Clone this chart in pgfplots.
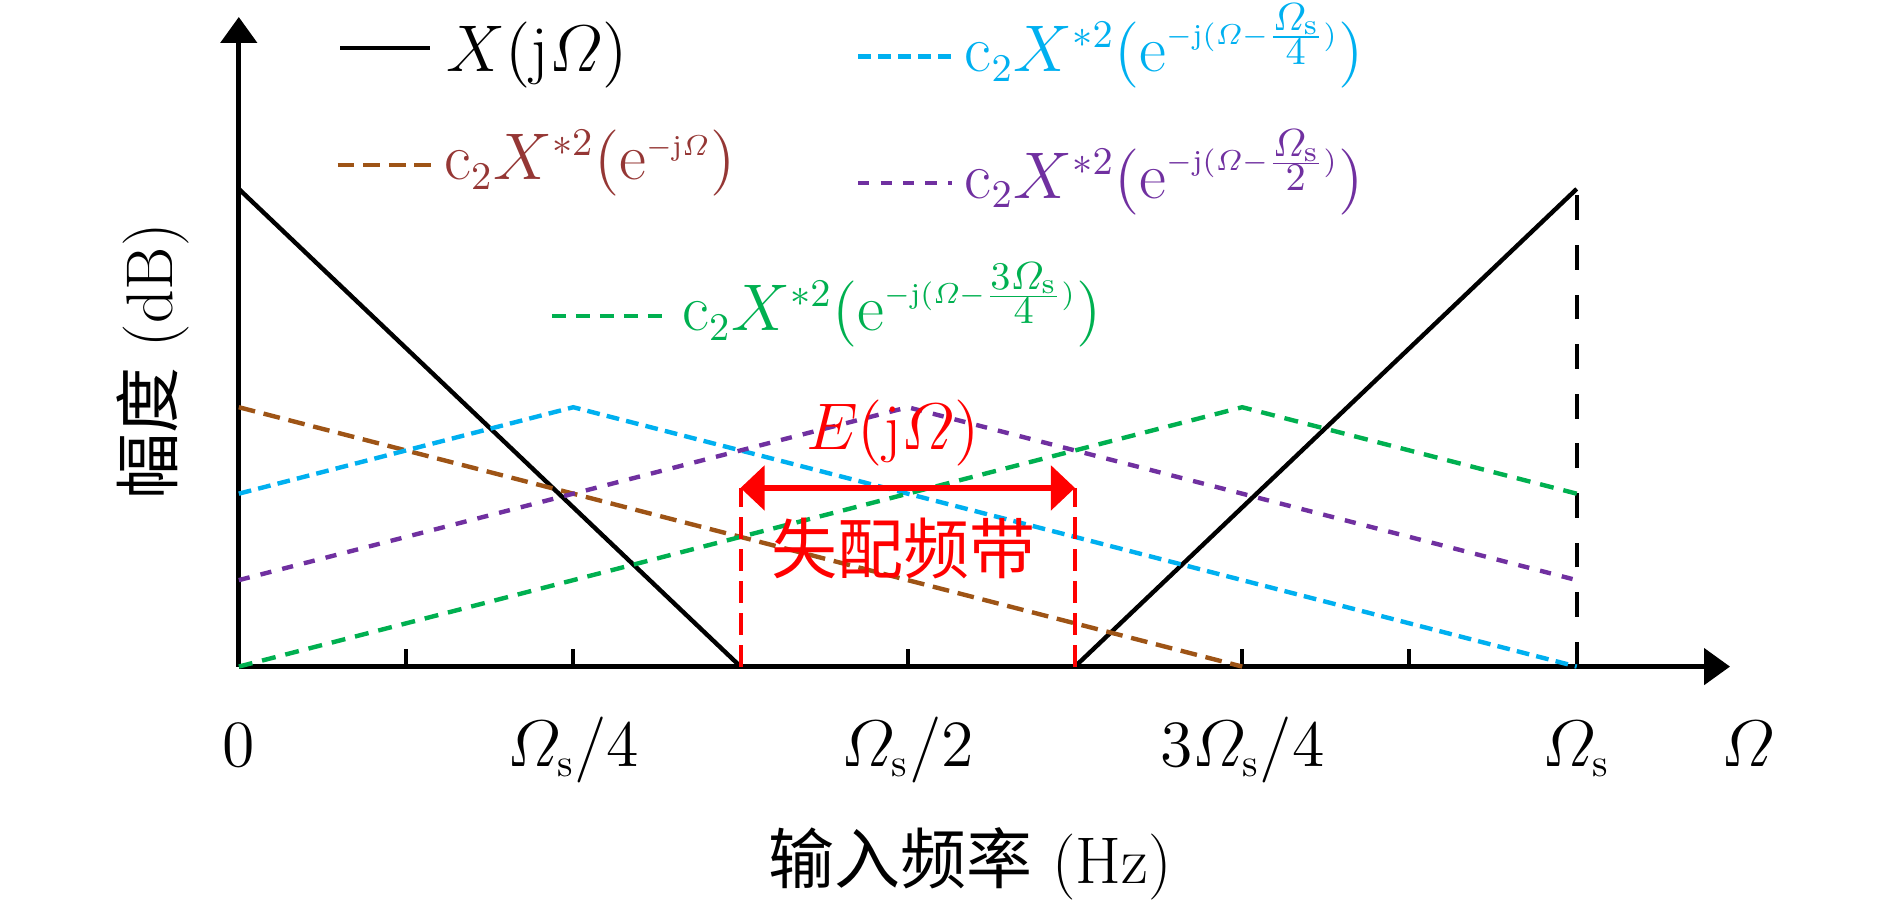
\RequirePackage{fix-cm}
\documentclass[border=0pt]{standalone}
\usepackage{amsmath}
\usepackage{fontspec}
\usepackage{pgfplots}
\pgfplotsset{compat=1.18}
\usetikzlibrary{arrows.meta}
\newfontfamily\cjk{Noto Sans CJK SC}
\DeclareMathSizes{16.5}{16.5}{9.8}{7.2}
\definecolor{brownline}{RGB}{158,84,22}
\definecolor{browntext}{RGB}{149,55,53}
\definecolor{skyc}{RGB}{0,176,240}
\definecolor{purp}{RGB}{112,48,160}
\definecolor{grn}{RGB}{0,176,80}
\newcommand\fs{\fontsize{16.5}{19}\selectfont}
\begin{document}
\fs
\begin{tikzpicture}
% fixed page size: 1890x905 px at 0.25pt per px
\useasboundingbox (-59.7pt,-59.6pt) rectangle (412.8pt,166.65pt);
\begin{axis}[
    at={(0,0)}, anchor=south west,
    scale only axis,
    width=372.8pt, height=162.4pt,
    xmin=0, xmax=1.1146, ymin=0, ymax=13.6,
    axis lines=left,
    axis line style={line width=1.25pt, -{Triangle[length=6.5pt,width=9pt]}},
    clip=false,
    xtick={0,0.25,0.5,0.75,1},
    xticklabels={$0$,$\varOmega_\mathrm{s}/4$,$\varOmega_\mathrm{s}/2$,$3\varOmega_\mathrm{s}/4$,$\varOmega_\mathrm{s}$},
    major tick length=0pt,
    minor xtick={0.125,0.25,0.5,0.75,0.875},
    minor tick length=4.5pt,
    tick align=inside,
    tick style={line width=1pt, black},
    ytick=\empty,
    xticklabel style={anchor=base, yshift=-25pt, font=\fs},
    xlabel={{\cjk 输入频率} (Hz)},
    xlabel style={at={(axis description cs:0.4904,0)}, anchor=base, yshift=-54.2pt, font=\fs},
    ylabel={{\cjk 幅度} (dB)},
    ylabel style={at={(axis description cs:0,0.47)}, anchor=center, yshift=21.5pt, font=\fs},
]
% X(jOmega)
\addplot[black, line width=1.1pt] coordinates {(0,10) (0.375,0)};
\addplot[black, line width=1.1pt] coordinates {(0.625,0) (1,10)};
\addplot[black, line width=1.1pt, dash pattern=on 6.2pt off 6.2pt] coordinates {(1,0) (1,10)};
% image components
\addplot[brownline, line width=1.1pt, dash pattern=on 4.2pt off 2.2pt] coordinates {(0,5.43) (0.75,0)};
\addplot[skyc, line width=1.1pt, dash pattern=on 3.2pt off 1.8pt] coordinates {(0,3.62) (0.25,5.43) (1,0)};
\addplot[purp, line width=1.1pt, dash pattern=on 2.8pt off 2.8pt] coordinates {(0,1.81) (0.5,5.43) (1,1.81)};
\addplot[grn, line width=1.1pt, dash pattern=on 3.5pt off 2.5pt] coordinates {(0,0) (0.75,5.43) (1,3.62)};
% mismatch band
\addplot[red, line width=1pt, dash pattern=on 5.5pt off 2.5pt] coordinates {(0.375,0) (0.375,3.74)};
\addplot[red, line width=1pt, dash pattern=on 5.5pt off 2.5pt] coordinates {(0.625,0) (0.625,3.74)};
\addplot[red, line width=1.3pt, {Triangle[length=6pt,width=11pt]}-{Triangle[length=6pt,width=11pt]}] coordinates {(0.375,3.74) (0.625,3.74)};
\node[red, anchor=base, inner sep=0pt] at (axis cs:0.489,4.55) {$E(\mathrm{j}\varOmega)$};
\node[red, anchor=center, inner sep=0pt] at (axis cs:0.497,2.47) {\cjk 失配频带};
% axis end label
\node[anchor=base, inner sep=0pt] at (axis cs:1.128,0) [yshift=-25pt] {$\varOmega$};
% legend
\draw[black, line width=1.1pt] (axis cs:0.0757,12.95) -- (axis cs:0.1432,12.95);
\node[anchor=base west, inner sep=0pt] at (axis cs:0.155,12.95) [yshift=-5.8pt] {$X(\mathrm{j}\varOmega)$};
\draw[brownline, line width=1.1pt, dash pattern=on 4.2pt off 2.2pt] (axis cs:0.0739,10.5) -- (axis cs:0.144,10.5);
\node[browntext, anchor=base west, inner sep=0pt] at (axis cs:0.153,10.5) [yshift=-3.7pt] {$\mathrm{c}_2X^{*2}(\mathrm{e}^{\scriptscriptstyle-\mathrm{j}\varOmega})$};
\draw[skyc, line width=1.1pt, dash pattern=on 3.2pt off 1.8pt] (axis cs:0.463,12.77) -- (axis cs:0.533,12.77);
\node[skyc, anchor=base west, inner sep=0pt] at (axis cs:0.542,12.77) [yshift=-3.7pt] {$\mathrm{c}_2X^{*2}(\mathrm{e}^{\scriptscriptstyle-\mathrm{j}(\varOmega-\frac{\scriptstyle\varOmega_\mathrm{s}}{\scriptstyle 4})})$};
\draw[purp, line width=1.1pt, dash pattern=on 2.8pt off 2.8pt] (axis cs:0.463,10.12) -- (axis cs:0.533,10.12);
\node[purp, anchor=base west, inner sep=0pt] at (axis cs:0.542,10.12) [yshift=-3.7pt] {$\mathrm{c}_2X^{*2}(\mathrm{e}^{\scriptscriptstyle-\mathrm{j}(\varOmega-\frac{\scriptstyle\varOmega_\mathrm{s}}{\scriptstyle 2})})$};
\draw[grn, line width=1.1pt, dash pattern=on 3.5pt off 2.5pt] (axis cs:0.234,7.34) -- (axis cs:0.323,7.34);
\node[grn, anchor=base west, inner sep=0pt] at (axis cs:0.331,7.34) [yshift=-3.7pt] {$\mathrm{c}_2X^{*2}(\mathrm{e}^{\scriptscriptstyle-\mathrm{j}(\varOmega-\frac{\scriptstyle 3\varOmega_\mathrm{s}}{\scriptstyle 4})})$};
\end{axis}
\end{tikzpicture}
\end{document}
